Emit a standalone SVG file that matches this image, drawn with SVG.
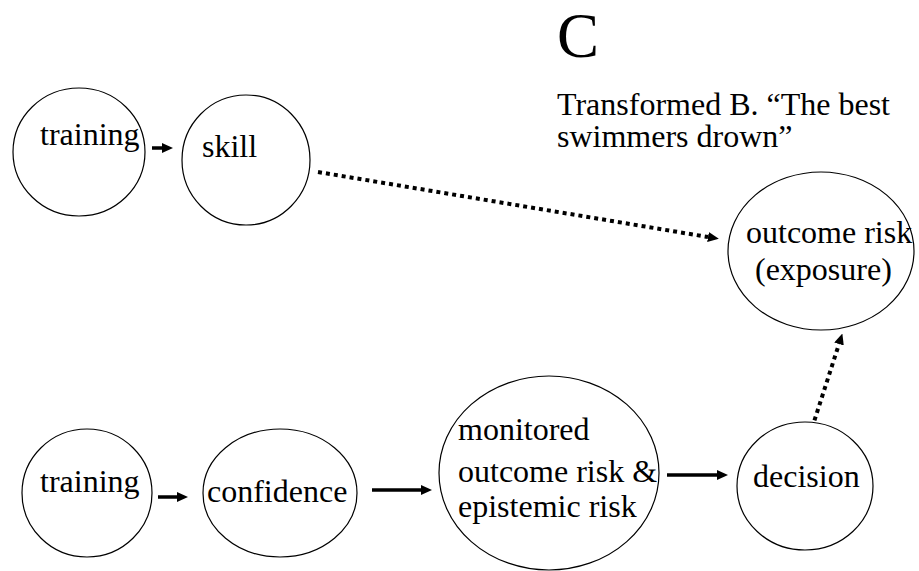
<svg xmlns="http://www.w3.org/2000/svg" width="919" height="571" viewBox="0 0 919 571">
<style>
  .node { fill: #fff; stroke: #000; stroke-width: 1.2; }
  .lbl { font-family: 'Liberation Serif', 'Times New Roman', serif; font-size: 32px; fill: #000; }
  .big { font-size: 63px; }
  .solid { stroke: #000; stroke-width: 3.5; fill: none; }
  .dot { stroke: #000; stroke-width: 4; stroke-dasharray: 4 4; fill: none; }
</style>
<defs>
  <marker id="ah" markerUnits="userSpaceOnUse" markerWidth="11" markerHeight="10" refX="0" refY="5" orient="auto" viewBox="0 0 11 10">
    <path d="M0,0 L11,5 L0,10 z" fill="#000"/>
  </marker>
</defs>
<rect width="919" height="571" fill="#fff"/>
<text class="lbl big" x="557" y="57">C</text>
<text class="lbl" x="557" y="115">Transformed B. “The best</text>
<text class="lbl" x="557" y="147">swimmers drown”</text>

<g id="connectors">
  <line class="solid" x1="152" y1="148" x2="162" y2="148" marker-end="url(#ah)"/>
  <line class="solid" x1="158" y1="497" x2="177" y2="497" marker-end="url(#ah)"/>
  <line class="solid" x1="372" y1="490" x2="421" y2="490" marker-end="url(#ah)"/>
  <line class="solid" x1="667" y1="475" x2="717" y2="475" marker-end="url(#ah)"/>
  <line class="dot" x1="318" y1="172" x2="708" y2="237" marker-end="url(#ah)"/>
  <line class="dot" x1="812" y1="428" x2="839" y2="344" marker-end="url(#ah)"/>
</g>

<g id="training-top">
  <ellipse class="node" cx="79" cy="152" rx="66" ry="64"/>
  <text class="lbl" x="40" y="145">training</text>
</g>
<g id="skill">
  <ellipse class="node" cx="246" cy="160" rx="64" ry="65"/>
  <text class="lbl" x="202" y="157">skill</text>
</g>
<g id="outcome-risk">
  <ellipse class="node" cx="821" cy="251" rx="93" ry="79"/>
  <text class="lbl" x="746" y="243">outcome risk</text>
  <text class="lbl" x="755" y="280">(exposure)</text>
</g>
<g id="training-bottom">
  <ellipse class="node" cx="87" cy="493" rx="65" ry="64"/>
  <text class="lbl" x="40" y="492">training</text>
</g>
<g id="confidence">
  <ellipse class="node" cx="280" cy="493" rx="77" ry="64"/>
  <text class="lbl" x="207" y="502">confidence</text>
</g>
<g id="monitored">
  <ellipse class="node" cx="549" cy="473" rx="110" ry="97"/>
  <text class="lbl" x="458" y="440">monitored</text>
  <text class="lbl" x="458" y="482">outcome risk &amp;</text>
  <text class="lbl" x="458" y="517">epistemic risk</text>
</g>
<g id="decision">
  <ellipse class="node" cx="805" cy="486" rx="68" ry="64"/>
  <text class="lbl" x="753" y="487">decision</text>
</g>
</svg>
